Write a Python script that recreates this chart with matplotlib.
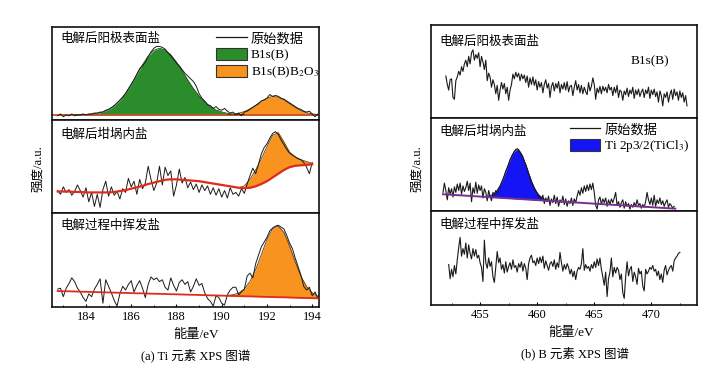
import numpy as np
import matplotlib
matplotlib.use("Agg")
import matplotlib.pyplot as plt
from matplotlib.lines import Line2D
from matplotlib.patches import Patch

plt.rcParams['font.family'] = ['Liberation Serif', 'Noto Sans CJK SC', 'DejaVu Sans']
plt.rcParams['mathtext.fontset'] = 'stix'

# ---------------- data: (a) Ti ----------------
# left-top: anode surface salt
LT_FIT_X0, LT_FIT_STEP = 182.75, 0.25
LT_BASELINE = 0.05
LT_GREEN = [0, 0, 0, 0.001, 0.002, 0.004, 0.008, 0.016, 0.032, 0.057,
            0.097, 0.156, 0.234, 0.330, 0.437, 0.543, 0.635, 0.698, 0.720, 0.702,
            0.649, 0.571, 0.476, 0.377, 0.284, 0.203, 0.138, 0.089, 0.054, 0.032,
            0.017, 0.009, 0.005, 0.002, 0, 0, 0, 0, 0, 0, 0, 0, 0, 0, 0, 0, 0]
LT_ORANGE = [0] * 30 + [0.003, 0.007, 0.017, 0.036, 0.065, 0.104, 0.147, 0.182, 0.199,
                        0.192, 0.163, 0.121, 0.080, 0.046, 0.023, 0.010, 0.004]
LT_RAW_X0, LT_RAW_STEP = 182.75, 0.125
LT_RAW = [0.04, 0.06, 0.03, 0.05, 0.04, 0.06, 0.04, 0.05, 0.05, 0.06,
          0.05, 0.06, 0.06, 0.07, 0.07, 0.08, 0.08, 0.10, 0.11, 0.13,
          0.15, 0.18, 0.21, 0.24, 0.28, 0.33, 0.38, 0.43, 0.49, 0.55,
          0.58, 0.62, 0.68, 0.73, 0.77, 0.79, 0.79, 0.78, 0.76, 0.72,
          0.69, 0.65, 0.61, 0.58, 0.54, 0.50, 0.47, 0.44, 0.41, 0.36,
          0.28, 0.23, 0.20, 0.16, 0.15, 0.12, 0.14, 0.11, 0.10, 0.12,
          0.09, 0.07, 0.08, 0.05, 0.07, 0.04, 0.08, 0.09, 0.11, 0.13,
          0.15, 0.17, 0.20, 0.21, 0.23, 0.27, 0.25, 0.26, 0.25, 0.23,
          0.22, 0.20, 0.18, 0.16, 0.14, 0.12, 0.11, 0.09, 0.08, 0.09,
          0.06, 0.03, 0.06, 0.05]

# left-middle: crucible salt
LM_FIT_X0, LM_FIT_STEP = 182.75, 0.25
LM_BG = [0.23, 0.23, 0.23, 0.225, 0.225, 0.22, 0.22, 0.22, 0.22, 0.22,
         0.225, 0.235, 0.245, 0.26, 0.275, 0.29, 0.31, 0.325, 0.34, 0.355,
         0.36, 0.36, 0.355, 0.35, 0.345, 0.34, 0.33, 0.32, 0.31, 0.30,
         0.29, 0.28, 0.27, 0.265, 0.27, 0.285, 0.31, 0.34, 0.38, 0.42,
         0.46, 0.49, 0.505, 0.51, 0.515, 0.52]
LM_PEAK = [0] * 32 + [0.0, 0.025, 0.09, 0.175, 0.27, 0.37, 0.45, 0.44, 0.30, 0.16,
                      0.095, 0.06, 0.035, 0.01]
LM_RAW_X0, LM_RAW_STEP = 182.75, 0.125
LM_RAW = [0.24, 0.20, 0.28, 0.22, 0.25, 0.19, 0.23, 0.30, 0.24, 0.17,
          0.27, 0.12, 0.22, 0.07, 0.20, 0.06, 0.25, 0.34, 0.18, 0.28,
          0.19, 0.23, 0.15, 0.26, 0.22, 0.37, 0.28, 0.34, 0.20, 0.36,
          0.26, 0.32, 0.50, 0.36, 0.24, 0.32, 0.50, 0.30, 0.49, 0.40,
          0.45, 0.18, 0.30, 0.47, 0.32, 0.38, 0.27, 0.33, 0.25, 0.31,
          0.22, 0.30, 0.24, 0.29, 0.20, 0.27, 0.19, 0.26, 0.17, 0.24,
          0.16, 0.27, 0.20, 0.22, 0.18, 0.26, 0.21, 0.31, 0.40, 0.48,
          0.42, 0.52, 0.63, 0.70, 0.74, 0.80, 0.85, 0.87, 0.84, 0.78,
          0.73, 0.68, 0.64, 0.62, 0.60, 0.58, 0.57, 0.54, 0.49, 0.42,
          0.54]

# left-bottom: volatilized salt
LB_FIT_X0, LB_FIT_STEP = 182.75, 0.25
LB_BG = [0.170, 0.168, 0.167, 0.165, 0.163, 0.162, 0.160, 0.158, 0.157, 0.155,
         0.153, 0.151, 0.150, 0.148, 0.146, 0.145, 0.143, 0.141, 0.140, 0.138,
         0.136, 0.135, 0.133, 0.131, 0.130, 0.128, 0.126, 0.124, 0.123, 0.121,
         0.119, 0.118, 0.116, 0.114, 0.113, 0.111, 0.109, 0.108, 0.106, 0.104,
         0.103, 0.101, 0.099, 0.097, 0.096, 0.094, 0.092]
LB_PEAK = [0] * 30 + [0.004, 0.012, 0.033, 0.078, 0.160, 0.286, 0.447, 0.611, 0.728,
                      0.758, 0.690, 0.548, 0.381, 0.231, 0.122, 0.057, 0.023]
LB_RAW_X0, LB_RAW_STEP = 182.75, 0.125
LB_RAW = [0.19, 0.20, 0.11, 0.20, 0.25, 0.31, 0.27, 0.20, 0.16, 0.10,
          0.06, 0.14, 0.11, 0.19, 0.24, 0.30, 0.04, 0.29, 0.22, 0.15,
          0.07, 0.01, 0.14, 0.22, 0.18, 0.24, 0.28, 0.16, 0.23, 0.28,
          0.20, 0.10, 0.24, 0.32, 0.29, 0.31, 0.27, 0.29, 0.21, 0.18,
          0.31, 0.23, 0.17, 0.26, 0.29, 0.24, 0.27, 0.16, 0.22, 0.30,
          0.23, 0.25, 0.15, 0.09, 0.06, 0.01, 0.12, 0.10, 0.04, 0.02,
          0.13, 0.18, 0.21, 0.21, 0.13, 0.16, 0.19, 0.33, 0.36, 0.31,
          0.46, 0.55, 0.64, 0.69, 0.74, 0.81, 0.84, 0.86, 0.87, 0.85,
          0.83, 0.76, 0.68, 0.62, 0.52, 0.43, 0.34, 0.22, 0.18, 0.21,
          0.12, 0.16, 0.09, 0.19]

# ---------------- data: (b) B ----------------
RT_RAW_X0, RT_RAW_STEP = 452.0, 0.125
RT_RAW = [0.45, 0.36, 0.30, 0.41, 0.42, 0.22, 0.20, 0.40,
          0.44, 0.50, 0.46, 0.55, 0.50, 0.58, 0.62, 0.55,
          0.66, 0.58, 0.70, 0.73, 0.62, 0.68, 0.64, 0.70,
          0.55, 0.66, 0.60, 0.52, 0.62, 0.40, 0.48, 0.44,
          0.33, 0.41, 0.36, 0.26, 0.35, 0.19, 0.30, 0.38,
          0.31, 0.37, 0.26, 0.33, 0.19, 0.30, 0.36, 0.47,
          0.42, 0.49, 0.44, 0.48, 0.40, 0.47, 0.42, 0.46,
          0.38, 0.45, 0.33, 0.43, 0.36, 0.44, 0.35, 0.41,
          0.30, 0.39, 0.33, 0.38, 0.27, 0.36, 0.41, 0.32,
          0.37, 0.22, 0.34, 0.38, 0.29, 0.37, 0.32, 0.39,
          0.27, 0.36, 0.31, 0.38, 0.30, 0.39, 0.28, 0.34,
          0.35, 0.24, 0.33, 0.40, 0.30, 0.36, 0.27, 0.35,
          0.26, 0.33, 0.28, 0.25, 0.38, 0.29, 0.34, 0.43,
          0.36, 0.20, 0.32, 0.27, 0.34, 0.26, 0.34, 0.29,
          0.33, 0.27, 0.36, 0.30, 0.33, 0.24, 0.33, 0.27,
          0.35, 0.22, 0.30, 0.28, 0.19, 0.29, 0.25, 0.32,
          0.23, 0.30, 0.26, 0.33, 0.21, 0.30, 0.25, 0.31,
          0.23, 0.28, 0.31, 0.22, 0.30, 0.26, 0.33, 0.21,
          0.30, 0.25, 0.31, 0.23, 0.28, 0.17, 0.29, 0.24,
          0.13, 0.26, 0.22, 0.28, 0.17, 0.25, 0.30, 0.20,
          0.31, 0.24, 0.28, 0.19, 0.29, 0.22, 0.27, 0.17,
          0.24, 0.13]

RM_FIT_X0, RM_FIT_STEP = 455.5, 0.25
RM_FIT_BG = [0.151, 0.150, 0.148, 0.146, 0.144, 0.142, 0.140, 0.138, 0.136, 0.134,
             0.132, 0.130, 0.128, 0.126, 0.124, 0.123, 0.121, 0.119, 0.117, 0.115,
             0.113, 0.111, 0.109]
RM_PEAK = [0.005, 0.011, 0.023, 0.045, 0.080, 0.132, 0.202, 0.286, 0.375, 0.454,
           0.510, 0.530, 0.510, 0.454, 0.375, 0.286, 0.202, 0.132, 0.080, 0.045,
           0.023, 0.011, 0.005]
RM_BASE_X = [451.75, 472.1]
RM_BASE_Y = [0.18, 0.025]
RM_RAW_X0, RM_RAW_STEP = 451.75, 0.125
RM_RAW = [0.20, 0.30, 0.22, 0.12, 0.25, 0.18, 0.24, 0.15,
          0.26, 0.20, 0.29, 0.22, 0.30, 0.18, 0.27, 0.21,
          0.25, 0.32, 0.22, 0.30, 0.10, 0.25, 0.19, 0.31,
          0.19, 0.28, 0.22, 0.27, 0.14, 0.24, 0.20, 0.11,
          0.22, 0.16, 0.11, 0.20, 0.17, 0.22, 0.19, 0.24,
          0.26, 0.30, 0.34, 0.38, 0.43, 0.46, 0.50, 0.55,
          0.58, 0.61, 0.64, 0.66, 0.67, 0.66, 0.63, 0.61,
          0.58, 0.53, 0.50, 0.45, 0.40, 0.36, 0.31, 0.27,
          0.24, 0.21, 0.19, 0.15, 0.16, 0.13, 0.17, 0.08,
          0.14, 0.10, 0.16, 0.06, 0.13, 0.09, 0.17, 0.08,
          0.15, 0.05, 0.12, 0.09, 0.16, 0.07, 0.13, 0.05,
          0.11, 0.08, 0.14, 0.06, 0.13, 0.09, 0.16, 0.22,
          0.17, 0.25, 0.19, 0.27, 0.21, 0.28, 0.22, 0.29,
          0.23, 0.30, 0.20, 0.06, 0.02, 0.12, 0.15, 0.07,
          0.13, 0.09, 0.14, 0.05, 0.12, 0.07, 0.13, 0.09,
          0.14, 0.20, 0.06, 0.10, 0.04, 0.09, 0.12, 0.03,
          0.10, 0.05, 0.08, 0.02, 0.07, 0.04, 0.09, 0.05,
          0.12, 0.06, 0.08, 0.03, 0.07, 0.04, 0.10, 0.20,
          0.12, 0.07, 0.14, 0.06, 0.17, 0.05, 0.12, 0.08,
          0.14, 0.07, 0.11, 0.05, 0.09, 0.12, 0.04, 0.08,
          0.06, 0.03, 0.05]

RB_RAW_X0, RB_RAW_STEP = 452.25, 0.125
RB_RAW = [0.43, 0.28, 0.38, 0.30, 0.42, 0.33, 0.48, 0.61,
          0.72, 0.52, 0.60, 0.54, 0.66, 0.50, 0.64, 0.55,
          0.49, 0.60, 0.52, 0.59, 0.50, 0.53, 0.45, 0.40,
          0.25, 0.69, 0.45, 0.39, 0.50, 0.41, 0.46, 0.30,
          0.24, 0.40, 0.57, 0.45, 0.50, 0.38, 0.43, 0.34,
          0.46, 0.35, 0.41, 0.45, 0.38, 0.48, 0.40, 0.42,
          0.35, 0.44, 0.40, 0.46, 0.36, 0.44, 0.39, 0.27,
          0.44, 0.50, 0.53, 0.45, 0.47, 0.42, 0.50, 0.44,
          0.51, 0.45, 0.52, 0.39, 0.47, 0.42, 0.37, 0.44,
          0.46, 0.41, 0.48, 0.38, 0.45, 0.40, 0.56, 0.45,
          0.36, 0.43, 0.38, 0.44, 0.40, 0.33, 0.38, 0.30,
          0.36, 0.27, 0.36, 0.40, 0.38, 0.44, 0.60, 0.37,
          0.43, 0.39, 0.41, 0.36, 0.43, 0.39, 0.46, 0.40,
          0.49, 0.42, 0.50, 0.38, 0.30, 0.21, 0.35, 0.09,
          0.28, 0.35, 0.50, 0.30, 0.40, 0.34, 0.40, 0.37,
          0.27, 0.33, 0.13, 0.07, 0.30, 0.46, 0.31, 0.38,
          0.41, 0.25, 0.35, 0.30, 0.22, 0.39, 0.33, 0.36,
          0.20, 0.15, 0.38, 0.33, 0.36, 0.40, 0.38, 0.42,
          0.36, 0.38, 0.31, 0.36, 0.27, 0.33, 0.24, 0.37,
          0.42, 0.32, 0.37, 0.40, 0.42, 0.36, 0.47, 0.50,
          0.52, 0.55, 0.56]

LEFT_TICKS = [184, 186, 188, 190, 192, 194]
RIGHT_TICKS = [455, 460, 465, 470]
LEFT_LABELS = ['电解后阳极表面盐', '电解后坩埚内盐', '电解过程中挥发盐']
RIGHT_LABELS = ['电解后阳极表面盐', '电解后坩埚内盐', '电解过程中挥发盐']


def grid(x0, step, vals):
    return x0 + step * np.arange(len(vals))


GREEN = '#2a8c2a'
ORANGE = '#f7931e'
BLUE = '#1414f5'
RED = '#e02a1c'
PURPLE = '#7a2f8f'
RAWC = '#1a1a1a'

W, H = 713, 369
fig = plt.figure(figsize=(W / 100, H / 100), dpi=100)


def add_ax(left, right, top, bottom):
    return fig.add_axes([left / W, 1 - bottom / H, (right - left) / W, (bottom - top) / H])


L_rows = [(27, 119.5), (119.5, 213), (213, 307)]
R_rows = [(24.7, 118), (118, 211), (211, 305)]
axL = [add_ax(52, 319, t, b) for t, b in L_rows]
axR = [add_ax(431, 697, t, b) for t, b in R_rows]

label_y_L = [0.87, 0.84, 0.87]
label_y_R = [0.82, 0.85, 0.86]

for i, ax in enumerate(axL + axR):
    ax.set_ylim(0, 1)
    ax.set_yticks([])
    for s in ax.spines.values():
        s.set_linewidth(1.2)
        s.set_color('#111111')
    if i < 3:
        ax.set_xlim(182.5, 194.3)
    else:
        ax.set_xlim(450.7, 474.0)
    if i in (2, 5):
        ax.tick_params(axis='x', direction='in', length=2.5, width=0.8, pad=3, labelsize=9)
        ax.tick_params(axis='x', which='minor', direction='in', length=1.5, width=0.6)
    else:
        ax.set_xticks([])

axL[2].set_xticks(LEFT_TICKS)
axL[2].set_xticks(np.arange(183, 195, 1), minor=True)
axR[2].set_xticks(RIGHT_TICKS)
axR[2].set_xticks(np.arange(452.5, 474, 2.5), minor=True)

for ax, lab, yy in zip(axL, LEFT_LABELS, label_y_L):
    ax.text(0.03, yy, lab, transform=ax.transAxes, fontsize=9, va='center', ha='left')
for ax, lab, yy in zip(axR, RIGHT_LABELS, label_y_R):
    ax.text(0.033, yy, lab, transform=ax.transAxes, fontsize=9, va='center', ha='left')

# ---- (a) top
ax = axL[0]
xf = grid(LT_FIT_X0, LT_FIT_STEP, LT_GREEN)
g = np.array(LT_GREEN)
o = np.array(LT_ORANGE)
ax.fill_between(xf, LT_BASELINE, LT_BASELINE + g, where=g > 0, color=GREEN, lw=0, zorder=2)
ax.plot(xf[g > 0], LT_BASELINE + g[g > 0], color='#1e4d1e', lw=0.6, zorder=3)
ax.fill_between(xf, LT_BASELINE, LT_BASELINE + o, where=o > 0, color=ORANGE, lw=0, zorder=2)
ax.plot(xf[o > 0], LT_BASELINE + o[o > 0], color='#5a3a10', lw=0.6, zorder=3)
ax.axhline(LT_BASELINE, color='#c8502a', lw=1.3, zorder=2.5)
ax.plot(grid(LT_RAW_X0, LT_RAW_STEP, LT_RAW), LT_RAW, color=RAWC, lw=0.7, zorder=4)
handles = [Line2D([], [], color=RAWC, lw=0.9),
           Patch(facecolor=GREEN, edgecolor='#333333', lw=0.8),
           Patch(facecolor=ORANGE, edgecolor='#333333', lw=0.8)]
ax.legend(handles, ['原始数据', 'B1s(B)', r'B1s(B)B$_2$O$_3$'], loc='upper left',
          bbox_to_anchor=(0.615, 0.95), frameon=False, fontsize=9.5, handlelength=2.3,
          handleheight=1.05, labelspacing=0.22, handletextpad=0.3, borderpad=0,
          borderaxespad=0)

# ---- (a) middle
ax = axL[1]
xf = grid(LM_FIT_X0, LM_FIT_STEP, LM_BG)
bg = np.array(LM_BG)
pk = np.array(LM_PEAK)
ax.fill_between(xf, bg, bg + pk, where=pk > 0, color=ORANGE, lw=0, zorder=2)
ax.plot(xf[xf >= 190.75], (bg + pk)[xf >= 190.75], color='#5a3a10', lw=0.6, zorder=3)
ax.plot(grid(LM_RAW_X0, LM_RAW_STEP, LM_RAW), LM_RAW, color=RAWC, lw=0.7, zorder=4)
ax.plot(xf, bg, color=RED, lw=1.6, zorder=5)

# ---- (a) bottom
ax = axL[2]
xf = grid(LB_FIT_X0, LB_FIT_STEP, LB_BG)
bg = np.array(LB_BG)
pk = np.array(LB_PEAK)
ax.fill_between(xf, bg, bg + pk, where=pk > 0, color=ORANGE, lw=0, zorder=2)
ax.plot(xf[pk > 0], (bg + pk)[pk > 0], color='#5a3a10', lw=0.6, zorder=3)
ax.plot(grid(LB_RAW_X0, LB_RAW_STEP, LB_RAW), LB_RAW, color=RAWC, lw=0.7, zorder=4)
ax.plot(xf, bg, color=RED, lw=1.3, zorder=5)

# ---- (b) top
ax = axR[0]
ax.plot(grid(RT_RAW_X0, RT_RAW_STEP, RT_RAW), RT_RAW, color=RAWC, lw=0.8, zorder=4)
ax.text(0.752, 0.61, 'B1s(B)', transform=ax.transAxes, fontsize=9.5, va='center', ha='left')

# ---- (b) middle
ax = axR[1]
xf = grid(RM_FIT_X0, RM_FIT_STEP, RM_PEAK)
bg = np.array(RM_FIT_BG)
pk = np.array(RM_PEAK)
ax.fill_between(xf, bg, bg + pk, color=BLUE, lw=0, zorder=2)
ax.plot(xf, bg + pk, color='#10105a', lw=0.6, zorder=3)
ax.plot(grid(RM_RAW_X0, RM_RAW_STEP, RM_RAW), RM_RAW, color=RAWC, lw=0.8, zorder=4)
ax.plot(RM_BASE_X, RM_BASE_Y, color=PURPLE, lw=1.4, zorder=5)
handles = [Line2D([], [], color=RAWC, lw=0.9),
           Patch(facecolor=BLUE, edgecolor='#333333', lw=0.8)]
ax.legend(handles, ['原始数据', r'Ti 2p3/2(TiCl$_3$)'], loc='upper left',
          bbox_to_anchor=(0.523, 0.95), frameon=False, fontsize=9.5, handlelength=2.3,
          handleheight=1.1, labelspacing=0.15, handletextpad=0.3, borderpad=0,
          borderaxespad=0)

# ---- (b) bottom
ax = axR[2]
ax.plot(grid(RB_RAW_X0, RB_RAW_STEP, RB_RAW), RB_RAW, color=RAWC, lw=0.8, zorder=4)

# ---- figure texts
fig.text(38 / W, 1 - 169 / H, '强度/a.u.', rotation=90, fontsize=9, ha='center', va='center')
fig.text(417 / W, 1 - 169 / H, '强度/a.u.', rotation=90, fontsize=9, ha='center', va='center')
fig.text(196 / W, 1 - 335 / H, '能量/eV', fontsize=9.5, ha='center', va='center')
fig.text(571 / W, 1 - 333 / H, '能量/eV', fontsize=9.5, ha='center', va='center')
fig.text(196 / W, 1 - 355 / H, '(a) Ti 元素 XPS 图谱', fontsize=9, ha='center', va='center')
fig.text(575 / W, 1 - 353 / H, '(b) B 元素 XPS 图谱', fontsize=9, ha='center', va='center')

fig.savefig('out.png', dpi=100)
